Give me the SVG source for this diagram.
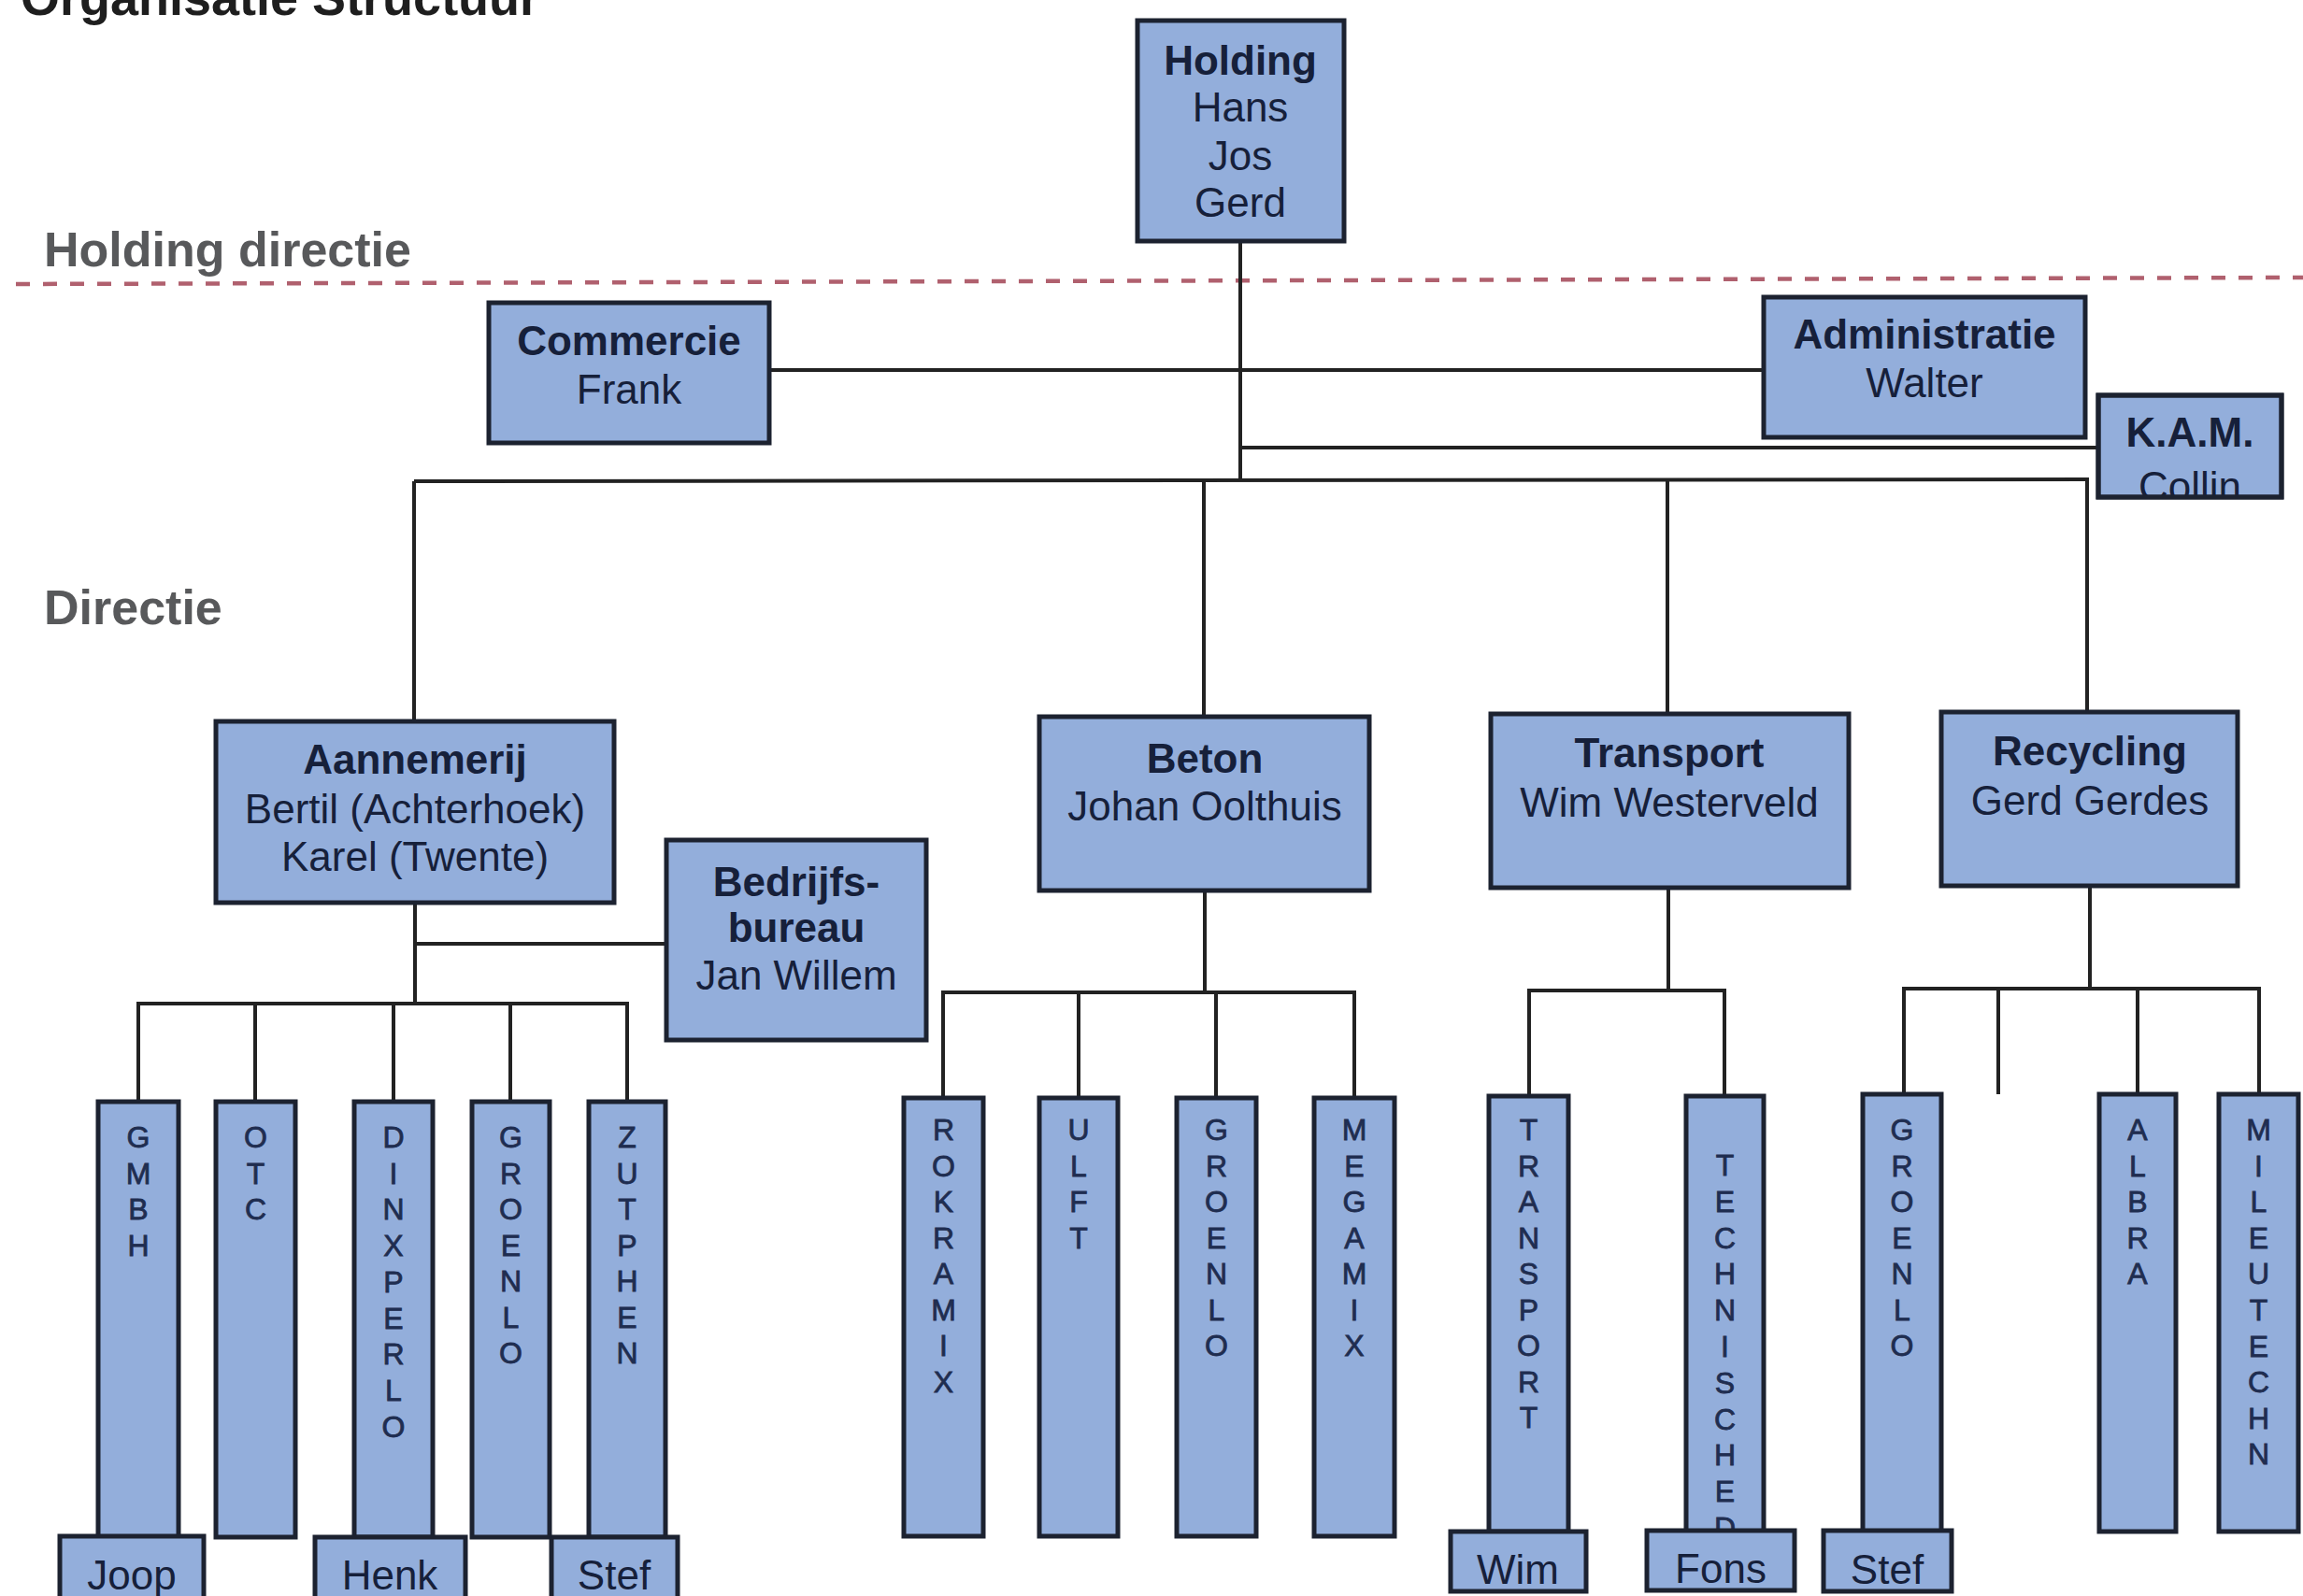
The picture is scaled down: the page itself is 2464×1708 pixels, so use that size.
<svg xmlns="http://www.w3.org/2000/svg" width="2464" height="1708" viewBox="0 0 2464 1708">
<style>
.box{fill:#93aedb;stroke:#1c2230;stroke-width:5}
.edge{fill:none;stroke:#1c2230;stroke-width:5}
.ln{stroke:#222222;stroke-width:4;fill:none}
.t{font-family:"Liberation Sans",Arial,sans-serif;font-size:44px;fill:#16203a;text-anchor:middle}
.b{font-weight:bold}
.v{font-family:"Liberation Sans",Arial,sans-serif;font-size:32px;fill:#1f2d50;stroke:#1f2d50;stroke-width:0.8;text-anchor:middle}
.lbl{font-family:"Liberation Sans",Arial,sans-serif;font-size:52px;font-weight:bold;fill:#58595b}
</style>
<defs>
<clipPath id="kamclip"><rect x="2245" y="423" width="196" height="107"/></clipPath>
</defs>
<rect width="2464" height="1708" fill="#ffffff"/>

<text x="22" y="16" font-family="'Liberation Sans',Arial,sans-serif" font-size="54" font-weight="bold" fill="#1e1e1e">Organisatie Structuur</text>
<text class="lbl" x="47" y="285">Holding directie</text>
<text class="lbl" x="47" y="668">Directie</text>
<line x1="17" y1="304" x2="2464" y2="297" stroke="#b0606e" stroke-width="4.5" stroke-dasharray="15 14"/>

<g id="connectors">
<line class="ln" x1="1327" y1="258" x2="1327" y2="515"/>
<line class="ln" x1="823" y1="396" x2="1887" y2="396"/>
<line class="ln" x1="1327" y1="479" x2="2245" y2="479"/>
<line class="ln" x1="443" y1="515" x2="2235" y2="513"/>
<line class="ln" x1="443" y1="515" x2="443" y2="772"/>
<line class="ln" x1="1288" y1="514" x2="1288" y2="767"/>
<line class="ln" x1="1784" y1="513" x2="1784" y2="764"/>
<line class="ln" x1="2233" y1="513" x2="2233" y2="762"/>

<line class="ln" x1="444" y1="966" x2="444" y2="1074"/>
<line class="ln" x1="444" y1="1010" x2="713" y2="1010"/>
<line class="ln" x1="146" y1="1074" x2="673" y2="1074"/>
<line class="ln" x1="148" y1="1074" x2="148" y2="1179"/>
<line class="ln" x1="273" y1="1074" x2="273" y2="1179"/>
<line class="ln" x1="421" y1="1074" x2="421" y2="1179"/>
<line class="ln" x1="546" y1="1074" x2="546" y2="1179"/>
<line class="ln" x1="671" y1="1074" x2="671" y2="1179"/>

<line class="ln" x1="1289" y1="953" x2="1289" y2="1062"/>
<line class="ln" x1="1007" y1="1062" x2="1451" y2="1062"/>
<line class="ln" x1="1009" y1="1062" x2="1009" y2="1175"/>
<line class="ln" x1="1154" y1="1062" x2="1154" y2="1175"/>
<line class="ln" x1="1301" y1="1062" x2="1301" y2="1175"/>
<line class="ln" x1="1449" y1="1062" x2="1449" y2="1175"/>

<line class="ln" x1="1785" y1="950" x2="1785" y2="1060"/>
<line class="ln" x1="1634" y1="1060" x2="1847" y2="1060"/>
<line class="ln" x1="1636" y1="1060" x2="1636" y2="1173"/>
<line class="ln" x1="1845" y1="1060" x2="1845" y2="1173"/>

<line class="ln" x1="2236" y1="948" x2="2236" y2="1058"/>
<line class="ln" x1="2035" y1="1058" x2="2419" y2="1058"/>
<line class="ln" x1="2037" y1="1058" x2="2037" y2="1171"/>
<line class="ln" x1="2138" y1="1058" x2="2138" y2="1171"/>
<line class="ln" x1="2287" y1="1058" x2="2287" y2="1171"/>
<line class="ln" x1="2417" y1="1058" x2="2417" y2="1171"/>
</g>

<g id="holding">
<rect class="box" x="1217" y="22" width="221" height="236"/>
<text class="t b" x="1327" y="80">Holding</text>
<text class="t" x="1327" y="130">Hans</text>
<text class="t" x="1327" y="182">Jos</text>
<text class="t" x="1327" y="232">Gerd</text>
</g>
<g id="commercie">
<rect class="box" x="523" y="324" width="300" height="150"/>
<text class="t b" x="673" y="380">Commercie</text>
<text class="t" x="673" y="432">Frank</text>
</g>
<g id="administratie">
<rect class="box" x="1887" y="318" width="344" height="150"/>
<text class="t b" x="2059" y="373">Administratie</text>
<text class="t" x="2059" y="425">Walter</text>
</g>
<g id="kam">
<rect class="box" x="2245" y="423" width="196" height="109"/>
<text class="t b" x="2343" y="478">K.A.M.</text>
<text class="t" x="2343" y="536" clip-path="url(#kamclip)">Collin</text>
<rect class="edge" x="2245" y="423" width="196" height="109"/>
</g>

<g id="aannemerij">
<rect class="box" x="231" y="772" width="426" height="194"/>
<text class="t b" x="444" y="828">Aannemerij</text>
<text class="t" x="444" y="881">Bertil (Achterhoek)</text>
<text class="t" x="444" y="932">Karel (Twente)</text>
</g>
<g id="bedrijfsbureau">
<rect class="box" x="713" y="899" width="278" height="214"/>
<text class="t b" x="852" y="959">Bedrijfs-</text>
<text class="t b" x="852" y="1008">bureau</text>
<text class="t" x="852" y="1059">Jan Willem</text>
</g>
<g id="beton">
<rect class="box" x="1112" y="767" width="353" height="186"/>
<text class="t b" x="1289" y="827">Beton</text>
<text class="t" x="1289" y="878">Johan Oolthuis</text>
</g>
<g id="transport">
<rect class="box" x="1595" y="764" width="383" height="186"/>
<text class="t b" x="1786" y="821">Transport</text>
<text class="t" x="1786" y="874">Wim Westerveld</text>
</g>
<g id="recycling">
<rect class="box" x="2077" y="762" width="317" height="186"/>
<text class="t b" x="2236" y="819">Recycling</text>
<text class="t" x="2236" y="872">Gerd Gerdes</text>
</g>

<g id="gmbh">
<rect class="box" x="105" y="1179" width="86" height="466"/>
<text class="v" x="148" y="1228"><tspan x="148">G</tspan><tspan x="148" dy="38.5">M</tspan><tspan x="148" dy="38.5">B</tspan><tspan x="148" dy="38.5">H</tspan></text>
</g>
<g id="otc">
<rect class="box" x="231" y="1179" width="85" height="466"/>
<text class="v" x="273.5" y="1228"><tspan x="273.5">O</tspan><tspan x="273.5" dy="38.5">T</tspan><tspan x="273.5" dy="38.5">C</tspan></text>
</g>
<g id="dinxperlo">
<rect class="box" x="379" y="1179" width="84" height="466"/>
<text class="v" x="421" y="1228"><tspan x="421">D</tspan><tspan x="421" dy="38.7">I</tspan><tspan x="421" dy="38.7">N</tspan><tspan x="421" dy="38.7">X</tspan><tspan x="421" dy="38.7">P</tspan><tspan x="421" dy="38.7">E</tspan><tspan x="421" dy="38.7">R</tspan><tspan x="421" dy="38.7">L</tspan><tspan x="421" dy="38.7">O</tspan></text>
</g>
<g id="groenlo-a">
<rect class="box" x="505" y="1179" width="83" height="466"/>
<text class="v" x="546.5" y="1228"><tspan x="546.5">G</tspan><tspan x="546.5" dy="38.5">R</tspan><tspan x="546.5" dy="38.5">O</tspan><tspan x="546.5" dy="38.5">E</tspan><tspan x="546.5" dy="38.5">N</tspan><tspan x="546.5" dy="38.5">L</tspan><tspan x="546.5" dy="38.5">O</tspan></text>
</g>
<g id="zutphen">
<rect class="box" x="630" y="1179" width="82" height="466"/>
<text class="v" x="671" y="1228"><tspan x="671">Z</tspan><tspan x="671" dy="38.5">U</tspan><tspan x="671" dy="38.5">T</tspan><tspan x="671" dy="38.5">P</tspan><tspan x="671" dy="38.5">H</tspan><tspan x="671" dy="38.5">E</tspan><tspan x="671" dy="38.5">N</tspan></text>
</g>

<g id="rokramix">
<rect class="box" x="967" y="1175" width="85" height="469"/>
<text class="v" x="1009.5" y="1220"><tspan x="1009.5">R</tspan><tspan x="1009.5" dy="38.5">O</tspan><tspan x="1009.5" dy="38.5">K</tspan><tspan x="1009.5" dy="38.5">R</tspan><tspan x="1009.5" dy="38.5">A</tspan><tspan x="1009.5" dy="38.5">M</tspan><tspan x="1009.5" dy="38.5">I</tspan><tspan x="1009.5" dy="38.5">X</tspan></text>
</g>
<g id="ulft">
<rect class="box" x="1112" y="1175" width="84" height="469"/>
<text class="v" x="1154" y="1220"><tspan x="1154">U</tspan><tspan x="1154" dy="38.5">L</tspan><tspan x="1154" dy="38.5">F</tspan><tspan x="1154" dy="38.5">T</tspan></text>
</g>
<g id="groenlo-b">
<rect class="box" x="1259" y="1175" width="85" height="469"/>
<text class="v" x="1301.5" y="1220"><tspan x="1301.5">G</tspan><tspan x="1301.5" dy="38.5">R</tspan><tspan x="1301.5" dy="38.5">O</tspan><tspan x="1301.5" dy="38.5">E</tspan><tspan x="1301.5" dy="38.5">N</tspan><tspan x="1301.5" dy="38.5">L</tspan><tspan x="1301.5" dy="38.5">O</tspan></text>
</g>
<g id="megamix">
<rect class="box" x="1406" y="1175" width="86" height="469"/>
<text class="v" x="1449" y="1220"><tspan x="1449">M</tspan><tspan x="1449" dy="38.5">E</tspan><tspan x="1449" dy="38.5">G</tspan><tspan x="1449" dy="38.5">A</tspan><tspan x="1449" dy="38.5">M</tspan><tspan x="1449" dy="38.5">I</tspan><tspan x="1449" dy="38.5">X</tspan></text>
</g>

<g id="transport-sub">
<rect class="box" x="1593" y="1173" width="85" height="466"/>
<text class="v" x="1635.5" y="1220"><tspan x="1635.5">T</tspan><tspan x="1635.5" dy="38.5">R</tspan><tspan x="1635.5" dy="38.5">A</tspan><tspan x="1635.5" dy="38.5">N</tspan><tspan x="1635.5" dy="38.5">S</tspan><tspan x="1635.5" dy="38.5">P</tspan><tspan x="1635.5" dy="38.5">O</tspan><tspan x="1635.5" dy="38.5">R</tspan><tspan x="1635.5" dy="38.5">T</tspan></text>
</g>
<g id="technisched">
<rect class="box" x="1804" y="1173" width="83" height="466"/>
<text class="v" x="1845.5" y="1258"><tspan x="1845.5">T</tspan><tspan x="1845.5" dy="38.8">E</tspan><tspan x="1845.5" dy="38.8">C</tspan><tspan x="1845.5" dy="38.8">H</tspan><tspan x="1845.5" dy="38.8">N</tspan><tspan x="1845.5" dy="38.8">I</tspan><tspan x="1845.5" dy="38.8">S</tspan><tspan x="1845.5" dy="38.8">C</tspan><tspan x="1845.5" dy="38.8">H</tspan><tspan x="1845.5" dy="38.8">E</tspan><tspan x="1845.5" dy="38.8">D</tspan></text>
</g>

<g id="groenlo-c">
<rect class="box" x="1993" y="1171" width="84" height="468"/>
<text class="v" x="2035" y="1220"><tspan x="2035">G</tspan><tspan x="2035" dy="38.5">R</tspan><tspan x="2035" dy="38.5">O</tspan><tspan x="2035" dy="38.5">E</tspan><tspan x="2035" dy="38.5">N</tspan><tspan x="2035" dy="38.5">L</tspan><tspan x="2035" dy="38.5">O</tspan></text>
</g>
<g id="albra">
<rect class="box" x="2246" y="1171" width="82" height="468"/>
<text class="v" x="2287" y="1220"><tspan x="2287">A</tspan><tspan x="2287" dy="38.5">L</tspan><tspan x="2287" dy="38.5">B</tspan><tspan x="2287" dy="38.5">R</tspan><tspan x="2287" dy="38.5">A</tspan></text>
</g>
<g id="mileutechn">
<rect class="box" x="2374" y="1171" width="85" height="468"/>
<text class="v" x="2416.5" y="1220"><tspan x="2416.5">M</tspan><tspan x="2416.5" dy="38.6">I</tspan><tspan x="2416.5" dy="38.6">L</tspan><tspan x="2416.5" dy="38.6">E</tspan><tspan x="2416.5" dy="38.6">U</tspan><tspan x="2416.5" dy="38.6">T</tspan><tspan x="2416.5" dy="38.6">E</tspan><tspan x="2416.5" dy="38.6">C</tspan><tspan x="2416.5" dy="38.6">H</tspan><tspan x="2416.5" dy="38.6">N</tspan></text>
</g>

<g id="joop">
<rect class="box" x="64" y="1644" width="154" height="75"/>
<text class="t" x="141" y="1701">Joop</text>
</g>
<g id="henk">
<rect class="box" x="337" y="1645" width="161" height="75"/>
<text class="t" x="417" y="1701">Henk</text>
</g>
<g id="stef-a">
<rect class="box" x="590" y="1645" width="135" height="75"/>
<text class="t" x="657" y="1701">Stef</text>
</g>
<g id="wim">
<rect class="box" x="1552" y="1639" width="145" height="64"/>
<text class="t" x="1624" y="1695">Wim</text>
</g>
<g id="fons">
<rect class="box" x="1762" y="1638" width="158" height="64"/>
<text class="t" x="1841" y="1694">Fons</text>
</g>
<g id="stef-b">
<rect class="box" x="1951" y="1638" width="137" height="65"/>
<text class="t" x="2019" y="1695">Stef</text>
</g>
</svg>
